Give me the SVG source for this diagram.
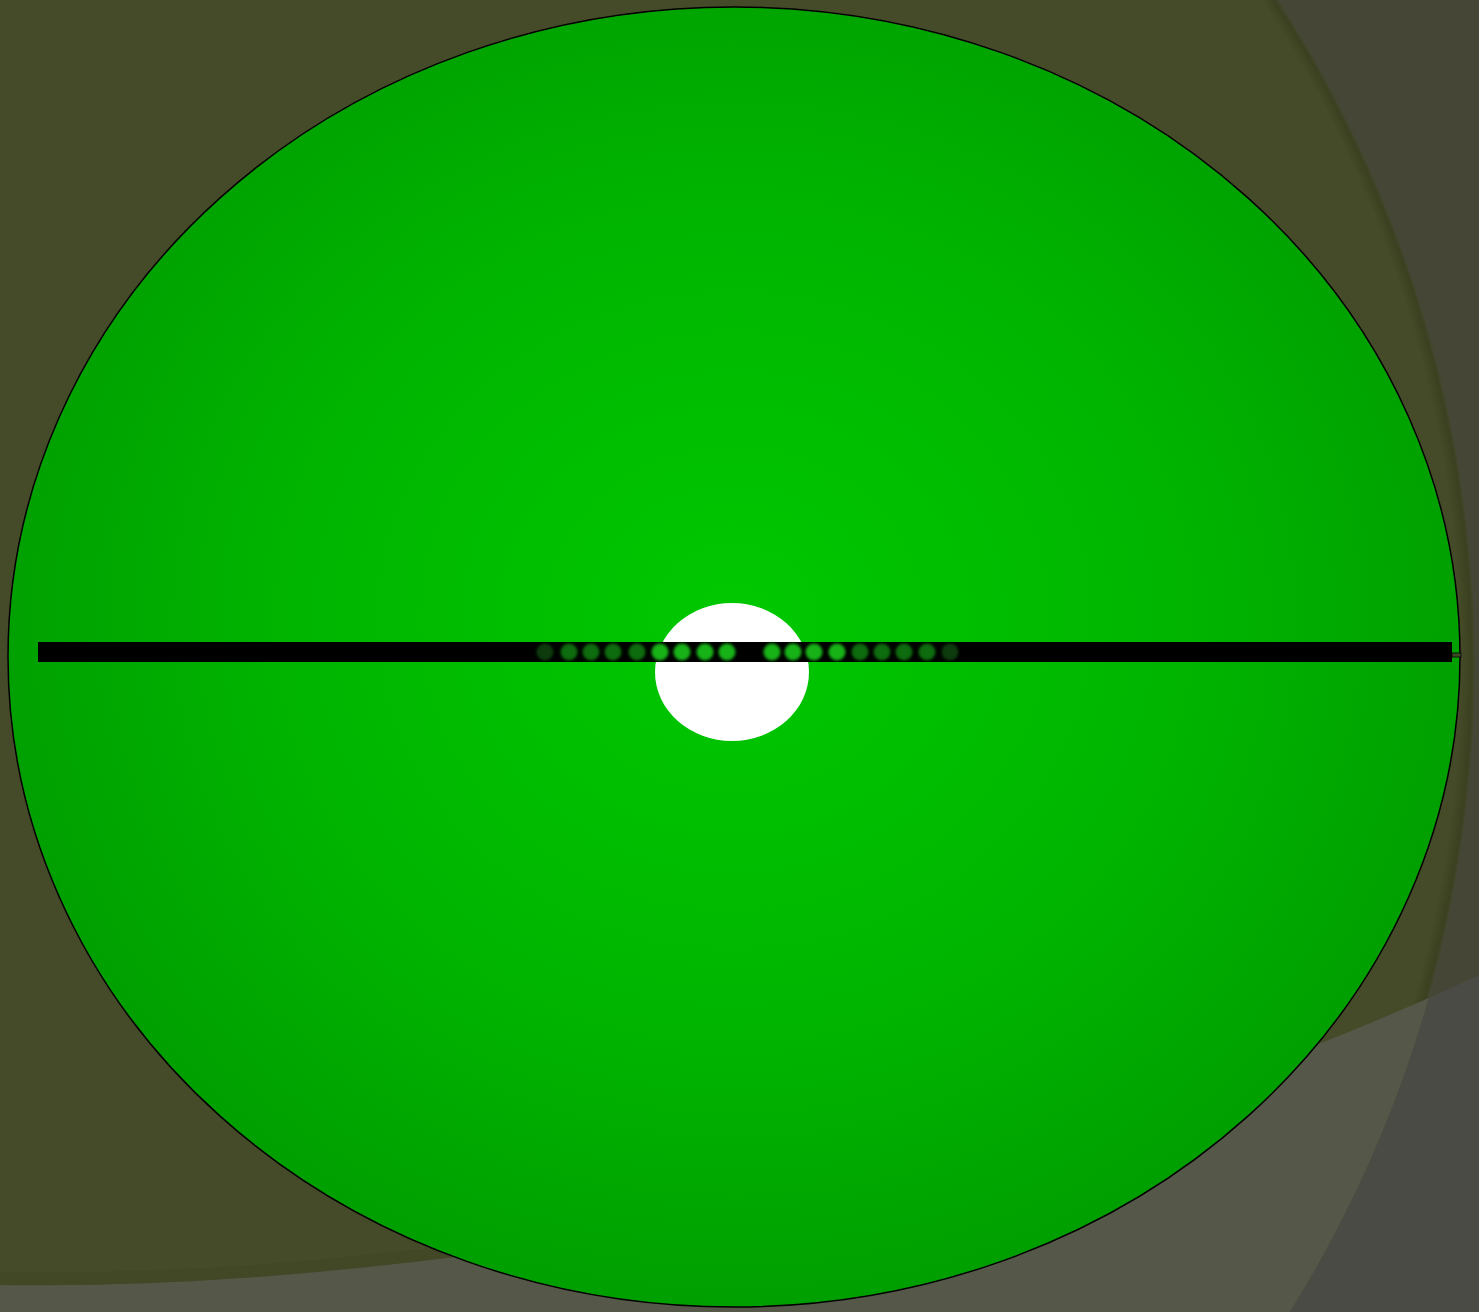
<svg xmlns="http://www.w3.org/2000/svg" width="1479" height="1312" viewBox="0 0 1479 1312">
<defs>
<radialGradient id="g" cx="734" cy="620" r="760" gradientUnits="userSpaceOnUse" gradientTransform="translate(734 620) scale(1 0.92) translate(-734 -620)">
<stop offset="0" stop-color="#00c800"/>
<stop offset="0.6" stop-color="#00b400"/>
<stop offset="1" stop-color="#009e00"/>
</radialGradient>
<radialGradient id="olive" cx="252" cy="665" r="1223" gradientUnits="userSpaceOnUse">
<stop offset="0.988" stop-color="#454b28"/>
<stop offset="0.997" stop-color="#3b4020"/>
<stop offset="1" stop-color="#434830"/>
</radialGradient>
<clipPath id="circ"><circle cx="252" cy="665" r="1223"/></clipPath>
<filter id="blur" x="-50%" y="-50%" width="200%" height="200%"><feGaussianBlur stdDeviation="1.6"/></filter>
<style>
.dot{filter:url(#blur)}
.dk{fill:#083a08}.md{fill:#0a6c0a}.br{fill:#12b212}
</style>
</defs>
<g id="background">
<rect x="0" y="0" width="1479" height="1312" fill="#464637"/>
<path d="M0,1285 Q300,1290 700,1220 Q1150,1130 1479,975 L1479,1312 L0,1312 Z" fill="#4b4b45"/>
<circle cx="252" cy="665" r="1223" fill="url(#olive)"/>
<g clip-path="url(#circ)">
<path d="M0,1285 Q300,1290 700,1220 Q1150,1130 1479,975 L1479,1312 L0,1312 Z" fill="#555748"/>
<path d="M0,1272 Q300,1278 700,1208 L700,1220 Q300,1290 0,1285 Z" fill="#3d4222" opacity="0.35"/>
</g>
</g>
<g id="disc">
<ellipse cx="734" cy="657" rx="726" ry="650" fill="url(#g)" stroke="#000" stroke-width="1.5"/>
</g>
<g id="hole">
<ellipse cx="732" cy="672" rx="77" ry="69" fill="#fff"/>
</g>
<g id="bar">
<rect x="38" y="642" width="1414" height="20" fill="#000"/>
<rect x="1452" y="653" width="9" height="4" fill="#3b4a22" stroke="#000" stroke-width="0.8"/>
</g>
<g id="dots">
<circle class="dot dk" cx="545" cy="652" r="8.5"/>
<circle class="dot md" cx="569" cy="652" r="8.5"/>
<circle class="dot md" cx="591" cy="652" r="8.5"/>
<circle class="dot md" cx="613" cy="652" r="8.5"/>
<circle class="dot md" cx="637" cy="652" r="8.5"/>
<circle class="dot br" cx="660" cy="652" r="8.5"/>
<circle class="dot br" cx="682" cy="652" r="8.5"/>
<circle class="dot br" cx="705" cy="652" r="8.5"/>
<circle class="dot br" cx="727" cy="652" r="8.5"/>
<circle class="dot br" cx="772" cy="652" r="8.5"/>
<circle class="dot br" cx="793" cy="652" r="8.5"/>
<circle class="dot br" cx="814" cy="652" r="8.5"/>
<circle class="dot br" cx="837" cy="652" r="8.5"/>
<circle class="dot md" cx="860" cy="652" r="8.5"/>
<circle class="dot md" cx="882" cy="652" r="8.5"/>
<circle class="dot md" cx="904" cy="652" r="8.5"/>
<circle class="dot md" cx="927" cy="652" r="8.5"/>
<circle class="dot dk" cx="950" cy="652" r="8.5"/>
</g>
</svg>
